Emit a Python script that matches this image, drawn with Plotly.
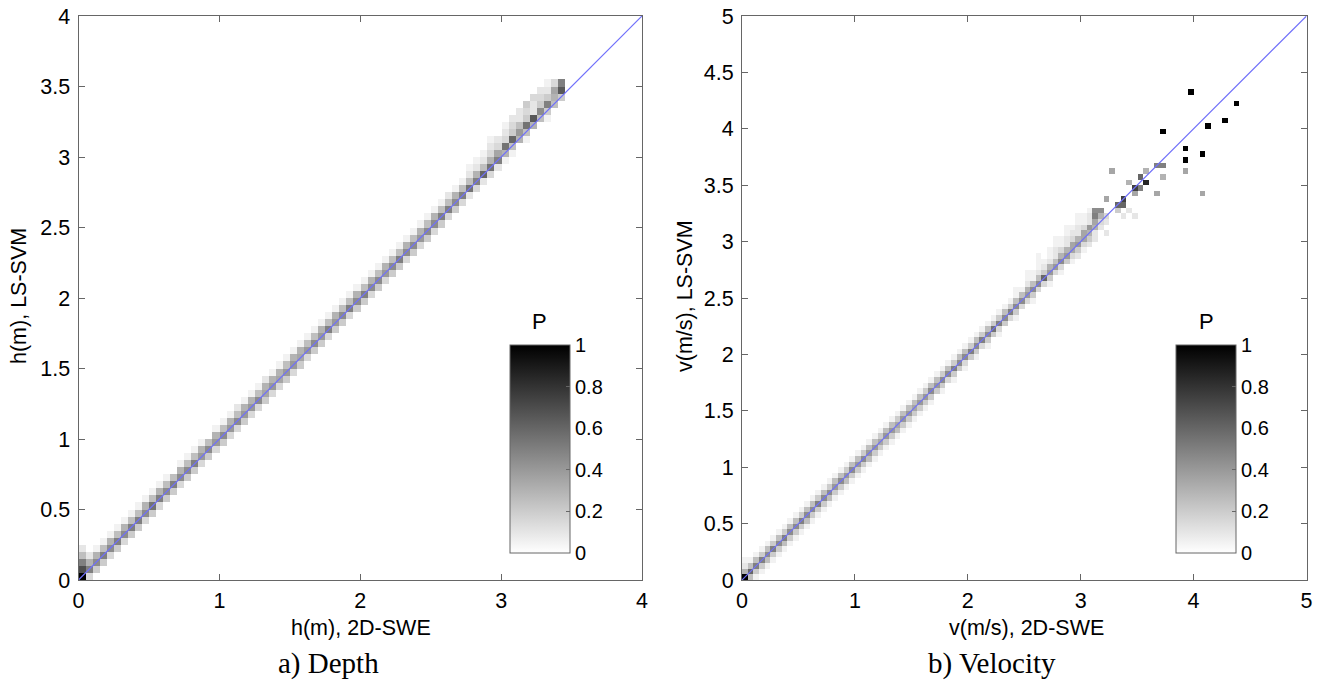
import plotly.graph_objects as go

# ---------------- data ----------------
BIN = 0.05  # histogram bin width (m or m/s)

# Depth panel: conditional probability P along the diagonal band,
# one value per 2D-SWE bin (column 0..68), listed by row offset from the diagonal
depth_offsets = [-1, 0, 1, 2, 3, 4]
depth_p_m1 = [0, 0.15, 0.2, 0.2, 0.15, 0.2, 0.15, 0.2, 0.2, 0.15,
              0.2, 0.15, 0.2, 0.2, 0.15, 0.2, 0.2, 0.15, 0.2, 0.15,
              0.2, 0.15, 0.15, 0.2, 0.15, 0.15, 0.2, 0.15, 0.15, 0.2,
              0.15, 0.2, 0.15, 0.2, 0.2, 0.15, 0.2, 0.2, 0.15, 0.2,
              0.2, 0.15, 0.2, 0.15, 0.2, 0.2, 0.15, 0.2, 0.15, 0.2,
              0.15, 0.2, 0.15, 0.2, 0.15, 0.1, 0.15, 0.1, 0.15, 0.1,
              0.05, 0.05, 0, 0.05, 0, 0, 0.05, 0, 0]
depth_p_0 = [1.0, 0.5, 0.45, 0.5, 0.45, 0.5, 0.45, 0.5, 0.5, 0.45,
             0.55, 0.5, 0.45, 0.5, 0.45, 0.45, 0.5, 0.4, 0.45, 0.4,
             0.45, 0.4, 0.45, 0.4, 0.4, 0.45, 0.35, 0.4, 0.35, 0.4,
             0.4, 0.35, 0.4, 0.45, 0.4, 0.5, 0.4, 0.45, 0.5, 0.45,
             0.5, 0.45, 0.45, 0.4, 0.45, 0.5, 0.45, 0.45, 0.4, 0.45,
             0.45, 0.5, 0.5, 0.45, 0.5, 0.55, 0.5, 0.6, 0.55, 0.5,
             0.3, 0.25, 0.3, 0.25, 0.3, 0.25, 0.2, 0.25, 0.2]
depth_p_p1 = [0.7, 0.3, 0.3, 0.25, 0.3, 0.25, 0.3, 0.25, 0.25, 0.3,
              0.25, 0.3, 0.25, 0.25, 0.3, 0.25, 0.25, 0.3, 0.25, 0.3,
              0.25, 0.3, 0.25, 0.3, 0.3, 0.25, 0.3, 0.3, 0.3, 0.25,
              0.3, 0.3, 0.25, 0.25, 0.3, 0.25, 0.3, 0.25, 0.25, 0.3,
              0.25, 0.3, 0.25, 0.3, 0.25, 0.25, 0.3, 0.25, 0.3, 0.25,
              0.3, 0.25, 0.25, 0.3, 0.25, 0.25, 0.3, 0.25, 0.3, 0.35,
              0.55, 0.6, 0.4, 0.55, 0.65, 0.45, 0.5, 0.3, 0.65]
depth_p_p2 = [0.5, 0.1, 0.05, 0.05, 0.05, 0.05, 0.05, 0.05, 0.05, 0.05,
              0.05, 0.05, 0.05, 0, 0.05, 0.05, 0.05, 0.05, 0, 0.05,
              0.05, 0.05, 0.1, 0.05, 0.05, 0.05, 0.1, 0.05, 0.05, 0.05,
              0.05, 0.05, 0.05, 0.05, 0.05, 0.05, 0.05, 0.05, 0.05, 0.05,
              0.05, 0.05, 0.05, 0.05, 0.05, 0.05, 0.05, 0.05, 0.05, 0.05,
              0.05, 0.05, 0.1, 0.05, 0.05, 0.1, 0.1, 0.1, 0.15, 0.15,
              0.15, 0.2, 0.25, 0.2, 0.1, 0.2, 0.2, 0.35, 0.5]
depth_p_p3 = [0.25, 0, 0, 0, 0, 0, 0, 0, 0, 0,
              0, 0, 0, 0, 0, 0, 0, 0, 0, 0,
              0, 0, 0, 0, 0, 0, 0, 0, 0, 0,
              0, 0, 0, 0, 0, 0, 0, 0, 0, 0,
              0, 0, 0, 0, 0, 0, 0, 0, 0, 0,
              0, 0, 0, 0, 0, 0.05, 0.05, 0.05, 0.1, 0.1,
              0.1, 0.15, 0.1, 0.15, 0.1, 0.15, 0.1, 0.15, 0]
depth_p_p4 = [0.1, 0, 0, 0, 0, 0, 0, 0, 0, 0,
              0, 0, 0, 0, 0, 0, 0, 0, 0, 0,
              0, 0, 0, 0, 0, 0, 0, 0, 0, 0,
              0, 0, 0, 0, 0, 0, 0, 0, 0, 0,
              0, 0, 0, 0, 0, 0, 0, 0, 0, 0,
              0, 0, 0, 0, 0, 0, 0, 0, 0.05, 0,
              0.05, 0.1, 0.1, 0.2, 0.15, 0.1, 0.05, 0, 0]

# Velocity panel: diagonal band, columns 0..61
vel_offsets = [-2, -1, 0, 1, 2, 3, 4, 5]
vel_p_m2 = [0, 0, 0.05, 0.05, 0.05, 0.05, 0.05, 0.05, 0.05, 0.05,
            0.05, 0.05, 0.05, 0.05, 0.05, 0.05, 0.05, 0.05, 0.05, 0.05,
            0.05, 0.05, 0.05, 0.05, 0.05, 0.05, 0.05, 0.05, 0.05, 0.05,
            0.05, 0.05, 0.05, 0.05, 0, 0.05, 0, 0.05, 0, 0.05,
            0, 0.05, 0, 0.05, 0, 0.05, 0, 0, 0.05, 0,
            0, 0.05, 0, 0, 0.05, 0, 0.05, 0, 0.05, 0.1,
            0.05, 0.1]
vel_p_m1 = [0, 0.25, 0.2, 0.2, 0.25, 0.2, 0.2, 0.25, 0.2, 0.2,
            0.2, 0.25, 0.2, 0.2, 0.2, 0.25, 0.2, 0.2, 0.25, 0.2,
            0.2, 0.2, 0.25, 0.2, 0.2, 0.2, 0.2, 0.25, 0.2, 0.2,
            0.2, 0.2, 0.2, 0.2, 0.2, 0.2, 0.15, 0.2, 0.2, 0.15,
            0.2, 0.2, 0.15, 0.2, 0.2, 0.15, 0.2, 0.15, 0.2, 0.15,
            0.15, 0.2, 0.15, 0.15, 0.2, 0.15, 0.15, 0.2, 0.15, 0.2,
            0.15, 0.2]
vel_p_0 = [1.0, 0.6, 0.5, 0.5, 0.45, 0.5, 0.45, 0.5, 0.45, 0.45,
           0.5, 0.45, 0.45, 0.5, 0.45, 0.45, 0.4, 0.45, 0.4, 0.45,
           0.4, 0.45, 0.4, 0.4, 0.35, 0.4, 0.4, 0.35, 0.4, 0.4,
           0.35, 0.4, 0.4, 0.45, 0.4, 0.45, 0.45, 0.5, 0.45, 0.45,
           0.5, 0.45, 0.5, 0.45, 0.55, 0.5, 0.45, 0.5, 0.45, 0.45,
           0.4, 0.45, 0.45, 0.6, 0.4, 0.4, 0.45, 0.4, 0.35, 0.4,
           0.35, 0.3]
vel_p_p1 = [0.3, 0.25, 0.25, 0.2, 0.25, 0.2, 0.25, 0.2, 0.25, 0.25,
            0.2, 0.25, 0.25, 0.2, 0.25, 0.2, 0.25, 0.25, 0.2, 0.25,
            0.25, 0.2, 0.25, 0.25, 0.2, 0.25, 0.25, 0.2, 0.25, 0.25,
            0.25, 0.25, 0.2, 0.25, 0.25, 0.2, 0.25, 0.2, 0.25, 0.25,
            0.2, 0.25, 0.2, 0.25, 0.2, 0.2, 0.25, 0.2, 0.25, 0.25,
            0.3, 0.25, 0.25, 0.2, 0.3, 0.25, 0.3, 0.3, 0.35, 0.3,
            0.35, 0.4]
vel_p_p2 = [0.1, 0.05, 0.05, 0.05, 0.05, 0.05, 0.05, 0.05, 0.05, 0.05,
            0.05, 0.05, 0.05, 0.05, 0.05, 0.05, 0.05, 0.05, 0.05, 0.05,
            0.05, 0.05, 0.05, 0.05, 0.05, 0.05, 0.05, 0.05, 0.05, 0.05,
            0.05, 0.05, 0.05, 0.05, 0.05, 0.05, 0.05, 0.05, 0.05, 0.05,
            0.05, 0.05, 0.05, 0.05, 0.05, 0.05, 0.05, 0.05, 0.05, 0.05,
            0.1, 0.05, 0.1, 0.1, 0.1, 0.1, 0.15, 0.1, 0.15, 0.1,
            0.15, 0.1]
vel_p_p3 = [0.05, 0, 0, 0, 0, 0, 0, 0, 0, 0,
            0, 0, 0, 0, 0, 0, 0, 0, 0, 0,
            0, 0, 0, 0, 0, 0, 0, 0, 0, 0,
            0, 0, 0, 0, 0, 0, 0, 0, 0, 0,
            0, 0, 0, 0, 0, 0, 0, 0, 0.05, 0,
            0.05, 0.05, 0.05, 0.05, 0.05, 0.1, 0.05, 0.1, 0.1, 0.1,
            0.05, 0.1]
vel_p_p4 = [0, 0, 0, 0, 0, 0, 0, 0, 0, 0,
            0, 0, 0, 0, 0, 0, 0, 0, 0, 0,
            0, 0, 0, 0, 0, 0, 0, 0, 0, 0,
            0, 0, 0, 0, 0, 0, 0, 0, 0, 0,
            0, 0, 0, 0, 0, 0, 0, 0, 0, 0,
            0.05, 0, 0.05, 0, 0.05, 0.05, 0.05, 0.05, 0.05, 0.05,
            0.05, 0.05]
vel_p_p5 = [0, 0, 0, 0, 0, 0, 0, 0, 0, 0,
            0, 0, 0, 0, 0, 0, 0, 0, 0, 0,
            0, 0, 0, 0, 0, 0, 0, 0, 0, 0,
            0, 0, 0, 0, 0, 0, 0, 0, 0, 0,
            0, 0, 0, 0, 0, 0, 0, 0, 0, 0,
            0, 0, 0.05, 0, 0, 0.05, 0, 0.05, 0, 0.05,
            0, 0]

# Velocity panel: isolated cells above 3.1 m/s (bin indices and P)
vel_extra_ix = [62, 62, 62, 62, 62, 62, 63, 63, 63, 63, 64, 64, 64, 64,
                65, 66, 66, 67, 67, 67, 68, 68, 69, 69, 69, 70, 70, 71, 71,
                73, 73, 74, 74, 74, 78, 78, 78, 79, 81, 81, 82, 85, 87]
vel_extra_iy = [65, 64, 63, 62, 61, 60, 65, 64, 63, 62, 67, 64, 63, 61,
                72, 66, 65, 67, 66, 64, 70, 65, 69, 68, 64, 71, 69, 72, 70,
                73, 68, 73, 71, 79, 72, 76, 74, 86, 68, 75, 80, 81, 84]
vel_extra_p = [0.45, 0.5, 0.35, 0.3, 0.1, 0.1, 0.45, 0.3, 0.15, 0.1, 0.35, 0.15, 0.1, 0.1,
               0.35, 0.6, 0.2, 0.75, 0.6, 0.1, 0.3, 0.1, 0.75, 0.35, 0.1, 0.6, 0.5, 0.3, 0.85,
               0.5, 0.35, 0.5, 0.3, 1.0, 0.35, 1.0, 1.0, 1.0, 0.35, 1.0, 1.0, 1.0, 1.0]

depth_ticks_x = [0, 1, 2, 3, 4]
depth_ticks_y = [0, 0.5, 1, 1.5, 2, 2.5, 3, 3.5, 4]
vel_ticks_x = [0, 1, 2, 3, 4, 5]
vel_ticks_y = [0, 0.5, 1, 1.5, 2, 2.5, 3, 3.5, 4, 4.5, 5]
cbar_ticks = [0, 0.2, 0.4, 0.6, 0.8, 1]


def fmt(v):
    return ("%g" % v)


def build_grid(n, offsets, rows, ex_ix=(), ex_iy=(), ex_p=()):
    z = [[None] * n for _ in range(n)]
    for off, row in zip(offsets, rows):
        for ix, p in enumerate(row):
            iy = ix + off
            if p > 0 and 0 <= iy < n:
                z[iy][ix] = p
    for ix, iy, p in zip(ex_ix, ex_iy, ex_p):
        z[iy][ix] = p
    centers = [BIN * (k + 0.5) for k in range(n)]
    return centers, z


d_c, d_z = build_grid(80, depth_offsets,
                      [depth_p_m1, depth_p_0, depth_p_p1, depth_p_p2, depth_p_p3, depth_p_p4])
v_c, v_z = build_grid(100, vel_offsets,
                      [vel_p_m2, vel_p_m1, vel_p_0, vel_p_p1, vel_p_p2, vel_p_p3, vel_p_p4, vel_p_p5],
                      vel_extra_ix, vel_extra_iy, vel_extra_p)

# ---------------- figure ----------------
W, H = 1327, 682
def px(x):
    return x / W
def py(y):
    return 1 - y / H

SANS = "Liberation Sans, Arial, sans-serif"
SERIF = "Liberation Serif, Times New Roman, serif"
GRAYS = [[0, "rgb(255,255,255)"], [1, "rgb(0,0,0)"]]
LINE_C = "rgb(112,112,250)"
AX_C = "#666666"

fig = go.Figure()

def cbar(xpix):
    return dict(
        x=px(xpix), xanchor="left", xpad=0,
        y=py(553), yanchor="bottom", ypad=0,
        len=208, lenmode="pixels", thickness=60, thicknessmode="pixels",
        outlinecolor=AX_C, outlinewidth=1,
        tickvals=cbar_ticks, ticktext=[fmt(t) for t in cbar_ticks],
        ticks="inside", ticklen=4, tickcolor=AX_C,
        tickfont=dict(family=SANS, size=20, color="black"),
    )

fig.add_trace(go.Heatmap(x=d_c, y=d_c, z=d_z, zmin=0, zmax=1, colorscale=GRAYS,
                         colorbar=cbar(510), xaxis="x", yaxis="y", hoverongaps=False))
fig.add_trace(go.Heatmap(x=v_c, y=v_c, z=v_z, zmin=0, zmax=1, colorscale=GRAYS,
                         colorbar=cbar(1176), xaxis="x2", yaxis="y2", hoverongaps=False))

fig.add_trace(go.Scatter(x=[0, 4], y=[0, 4], mode="lines", line=dict(color=LINE_C, width=1.2),
                         xaxis="x", yaxis="y", showlegend=False))
fig.add_trace(go.Scatter(x=[0, 5], y=[0, 5], mode="lines", line=dict(color=LINE_C, width=1.2),
                         xaxis="x2", yaxis="y2", showlegend=False))

def axis(dom, rng, ticks, anchor, standoff):
    return dict(domain=dom, range=rng, anchor=anchor, automargin=False,
                tickvals=ticks, ticktext=[fmt(t) for t in ticks],
                showgrid=False, zeroline=False, showline=True, linecolor=AX_C, linewidth=1,
                mirror="ticks", ticks="inside", ticklen=6, tickcolor=AX_C,
                ticklabelstandoff=standoff,
                tickfont=dict(family=SANS, size=21.5, color="black"))

ydom = [py(580), py(16)]
fig.update_layout(
    width=W, height=H, margin=dict(l=0, r=0, t=0, b=0, autoexpand=False),
    paper_bgcolor="white", plot_bgcolor="white", showlegend=False,
    xaxis=axis([px(78.5), px(642)], [0, 4], depth_ticks_x, "y", 1),
    yaxis=axis(ydom, [0, 4], depth_ticks_y, "x", 3),
    xaxis2=axis([px(742), px(1306.5)], [0, 5], vel_ticks_x, "y2", 1),
    yaxis2=axis(ydom, [0, 5], vel_ticks_y, "x2", 3),
)

annots = [
    ("h(m), 2D-SWE", 361, 628, 0, SANS, 21.5),
    ("h(m), LS-SVM", 19, 296, -90, SANS, 21.5),
    ("v(m/s), 2D-SWE", 1026, 628, 0, SANS, 21.5),
    ("v(m/s), LS-SVM", 685, 296, -90, SANS, 21.5),
    ("a) Depth", 328, 663, 0, SERIF, 29),
    ("b) Velocity", 992, 663, 0, SERIF, 29),
    ("P", 539, 321, 0, SANS, 22),
    ("P", 1206, 321, 0, SANS, 22),
]
for text, x, y, ang, fam, size in annots:
    fig.add_annotation(text=text, x=px(x), y=py(y), xref="paper", yref="paper",
                       xanchor="center", yanchor="middle", textangle=ang, showarrow=False,
                       font=dict(family=fam, size=size, color="black"))

fig.write_html("out.html", config={"displayModeBar": False},
               post_script="document.body.style.margin='0';")
